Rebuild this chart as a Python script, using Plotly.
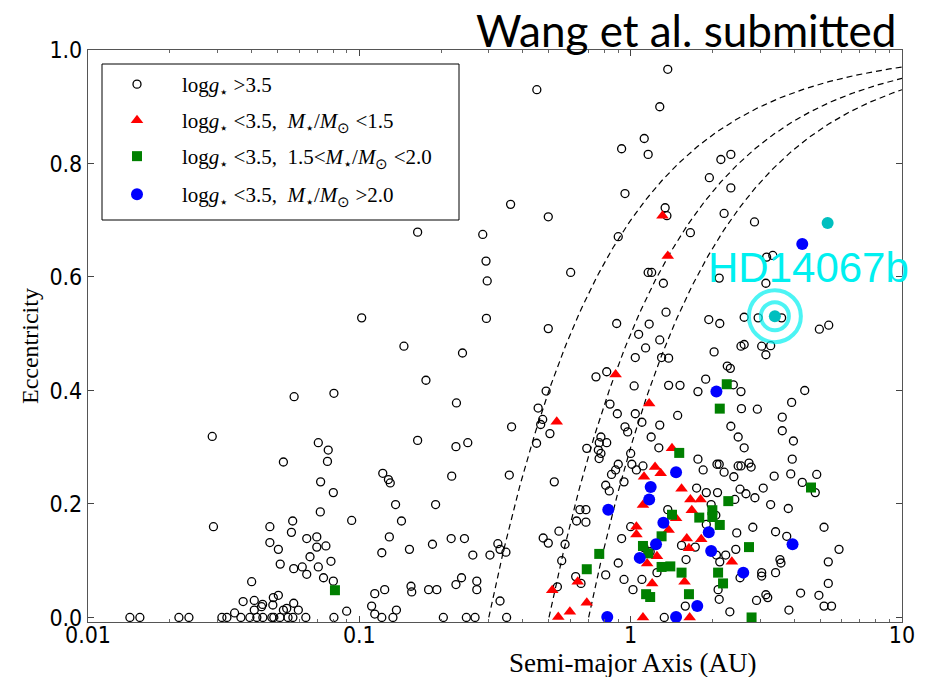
import plotly.graph_objects as go
import numpy as np

# ---------------- data ----------------
# log g > 3.5 (open circles): semi-major axis (AU), eccentricity
dwarf_a = [
    0.164, 0.451, 1.122, 0.926, 1.16, 0.953, 0.361, 0.497, 0.285, 0.90, 1.37, 1.28, 2.15, 2.34, 1.95, 2.34,
    1.34, 1.36, 2.21, 2.86, 1.66, 3.17, 3.34, 1.195, 1.32, 2.12, 3.15, 1.35, 1.17, 1.94, 2.13, 2.62, 2.95,
    3.60, 4.96, 5.37, 1.28, 1.135, 2.03, 2.55, 2.62, 3.04, 3.28, 3.15, 1.30, 1.38, 2.27, 2.33, 1.89, 2.39,
    2.55, 1.77, 1.38, 1.52, 4.38, 3.92, 2.56, 2.93, 3.62, 1.49, 1.10, 1.28, 2.34, 3.62, 3.98, 1.19, 2.49,
    1.27, 2.62, 3.94, 1.77, 1.85, 2.08, 2.12, 2.49, 2.55, 2.73, 2.78, 2.21, 2.40, 3.38, 3.89, 4.29, 4.85,
    4.79, 1.75, 1.90, 2.09, 2.53, 2.66, 2.87, 3.08, 2.42, 1.98, 3.28, 3.81, 1.37, 2.06, 1.90, 2.82, 5.16,
    2.46, 3.42, 3.76, 1.54, 5.86, 1.73, 2.44, 2.07, 2.24, 1.12, 1.18, 1.60, 2.13, 3.55, 3.58, 5.35, 2.53,
    3.04, 3.04, 3.42, 1.25, 1.10, 5.35, 2.10, 4.23, 4.94, 3.15, 3.20, 2.91, 2.12, 1.59, 5.16, 5.50, 3.83,
    2.32, 1.33, 1.11,
    0.293, 0.296, 0.294, 0.601, 0.146, 0.240, 0.176, 0.228, 0.497, 0.488, 0.456, 0.474, 0.466, 0.364,
    0.888, 1.16, 1.07, 1.04, 0.745, 0.816, 1.03, 0.839, 0.893, 1.04, 0.953, 0.102, 0.0575, 0.0806,
    0.504, 0.45, 0.164, 0.227, 0.251, 0.122, 0.128, 0.13, 0.219, 0.357, 0.523, 0.777, 0.816, 0.766,
    0.689, 0.76, 0.777, 0.765, 0.975, 1.0, 0.90, 0.88, 0.85, 1.01, 1.05, 0.945, 0.809, 0.834, 0.65,
    0.684, 0.632, 0.684, 0.136, 0.191, 0.143, 0.129, 0.121, 0.153, 0.186, 0.218, 0.244, 0.262, 0.324,
    0.330, 0.347, 0.303, 0.476, 0.497, 0.544, 0.573, 0.557, 1.0, 0.926, 0.90, 0.809, 0.627, 0.656,
    0.945, 1.02, 0.537, 0.330, 0.114, 0.124, 0.155, 0.156, 0.180, 0.193, 0.227, 0.238, 0.271, 0.271,
    0.111, 0.137, 0.114,
    0.0287, 0.029, 0.0706, 0.0768, 0.0763, 0.0525, 0.072, 0.0802, 0.0718, 0.0937, 0.0568, 0.0468,
    0.0562, 0.064, 0.0697, 0.0697, 0.0753, 0.0468, 0.0503, 0.0511, 0.0658, 0.0706, 0.0786, 0.0573,
    0.0616, 0.064, 0.0738, 0.0802, 0.0401, 0.0373, 0.041, 0.044, 0.0482, 0.0503, 0.0347, 0.041,
    0.0436, 0.048, 0.0525, 0.054, 0.0573, 0.0596, 0.0898,
    0.01427, 0.01553, 0.02163, 0.02355, 0.03115, 0.0325, 0.0366, 0.0395, 0.0419, 0.0441, 0.0476,
    0.0484, 0.051, 0.0546, 0.0569, 0.0635, 0.0806, 0.121, 0.133, 0.204, 0.248, 0.267, 0.349,
]
dwarf_e = [
    0.679, 0.930, 0.844, 0.826, 0.816, 0.747, 0.728, 0.706, 0.675, 0.671, 0.966, 0.900, 0.807, 0.816, 0.775, 0.757,
    0.722, 0.708, 0.712, 0.697, 0.678, 0.635, 0.638, 0.608, 0.589, 0.598, 0.589, 0.538, 0.517, 0.525, 0.518, 0.529, 0.528,
    0.528, 0.508, 0.515, 0.489, 0.475, 0.468, 0.478, 0.481, 0.478, 0.479, 0.463, 0.458, 0.457, 0.443, 0.439, 0.420, 0.410,
    0.398, 0.398, 0.409, 0.409, 0.400, 0.379, 0.368, 0.367, 0.353, 0.356, 0.344, 0.339, 0.337, 0.329, 0.311, 0.318, 0.318,
    0.299, 0.299, 0.279, 0.279, 0.260, 0.270, 0.270, 0.267, 0.267, 0.272, 0.265, 0.256, 0.248, 0.249, 0.253, 0.238, 0.252,
    0.220, 0.228, 0.220, 0.220, 0.226, 0.218, 0.211, 0.228, 0.208, 0.199, 0.199, 0.192, 0.190, 0.180, 0.164, 0.159, 0.159,
    0.149, 0.151, 0.143, 0.127, 0.120, 0.124, 0.120, 0.110, 0.110, 0.123, 0.116, 0.102, 0.098, 0.102, 0.096, 0.098, 0.070,
    0.079, 0.073, 0.079, 0.079, 0.067, 0.060, 0.049, 0.043, 0.039, 0.040, 0.035, 0.030, 0.032, 0.020, 0.020, 0.020, 0.013,
    0.010, 0.0, 0.267,
    0.628, 0.593, 0.527, 0.608, 0.478, 0.466, 0.418, 0.378, 0.509, 0.399, 0.369, 0.349, 0.340, 0.336,
    0.518, 0.608, 0.499, 0.458, 0.424, 0.433, 0.408, 0.376, 0.359, 0.359, 0.336, 0.528, 0.389, 0.395,
    0.324, 0.307, 0.312, 0.301, 0.308, 0.254, 0.243, 0.237, 0.249, 0.251, 0.239, 0.318, 0.308, 0.308,
    0.298, 0.295, 0.289, 0.280, 0.327, 0.289, 0.270, 0.260, 0.252, 0.270, 0.260, 0.239, 0.233, 0.223, 0.190,
    0.190, 0.170, 0.168, 0.199, 0.199, 0.170, 0.142, 0.114, 0.120, 0.129, 0.139, 0.139, 0.110, 0.130,
    0.120, 0.115, 0.110, 0.140, 0.131, 0.152, 0.129, 0.100, 0.160, 0.139, 0.096, 0.075, 0.072, 0.060,
    0.067, 0.049, 0.054, 0.029, 0.042, 0.049, 0.055, 0.045, 0.049, 0.049, 0.058, 0.070, 0.064, 0.049,
    0.020, 0.013, 0.006,
    0.319, 0.16, 0.308, 0.295, 0.275, 0.274, 0.239, 0.22, 0.186, 0.171, 0.17, 0.16,
    0.15, 0.139, 0.142, 0.124, 0.126, 0.132, 0.12, 0.094, 0.107, 0.089, 0.099, 0.086,
    0.089, 0.076, 0.07, 0.064, 0.063, 0.028, 0.03, 0.023, 0.035, 0.039, 0.008, 0.013,
    0.019, 0.022, 0.013, 0.016, 0.025, 0.013, 0.011,
    0.0, 0.0, 0.0, 0.0, 0.0, 0.0, 0.0, 0.0, 0.0, 0.0, 0.0,
    0.0, 0.0, 0.0, 0.0, 0.0, 0.0, 0.0, 0.0, 0.0, 0.0, 0.0, 0.0,
]

# log g < 3.5, M < 1.5 Msun (red triangles)
low_a = [1.31, 1.37, 1.17, 0.534, 0.88, 1.42, 1.23, 1.29, 1.12, 1.54, 1.66, 1.81, 1.68, 1.47, 1.38, 1.61,
         1.82, 1.64, 1.15, 1.25, 2.36, 1.20, 1.58, 1.65, 1.11, 1.05, 1.05, 0.638, 0.514, 0.689, 0.597,
         0.541, 1.11]
low_e = [0.708, 0.637, 0.377, 0.345, 0.428, 0.298, 0.265, 0.254, 0.248, 0.227, 0.208, 0.208, 0.189, 0.175,
         0.154, 0.139, 0.138, 0.122, 0.095, 0.108, 0.098, 0.060, 0.063, 0.0, 0.0, 0.160, 0.146, 0.063, 0.048,
         0.026, 0.010, 0.001, 0.198]

# log g < 3.5, 1.5 < M < 2.0 Msun (green squares)
mid_a = [2.26, 2.13, 1.51, 4.62, 2.29, 2.0, 2.0, 1.42, 1.79, 2.13, 1.30, 2.73, 1.30, 1.40, 1.54, 2.10,
         2.19, 1.64, 1.14, 1.18, 2.79, 0.766, 0.689, 0.0813, 1.11, 1.16]
mid_e = [0.411, 0.368, 0.290, 0.229, 0.205, 0.189, 0.177, 0.181, 0.176, 0.163, 0.143, 0.124, 0.089, 0.090,
         0.079, 0.079, 0.060, 0.041, 0.041, 0.036, 0.0, 0.112, 0.085, 0.048, 0.126, 0.113]

# log g < 3.5, M > 2.0 Msun (blue circles)
high_a = [4.29, 2.07, 1.47, 1.185, 1.17, 1.32, 1.94, 3.95, 1.24, 1.98, 2.60, 1.76, 1.47, 0.827, 1.08, 0.82]
high_e = [0.658, 0.398, 0.256, 0.230, 0.208, 0.167, 0.150, 0.129, 0.129, 0.117, 0.079, 0.020, 0.001, 0.190,
          0.105, 0.001]

# HD 14067 system (cyan)
hd_a = [5.32, 3.40]
hd_e = [0.695, 0.531]

# constant periastron distance curves e = 1 - q/a
peri_q = [0.3, 0.5, 0.7]

legend_names = [
    "log<i>g</i><sub>⋆</sub> &gt;3.5",
    "log<i>g</i><sub>⋆</sub> &lt;3.5,  <i>M</i><sub>⋆</sub>/<i>M</i><sub>⊙</sub> &lt;1.5",
    "log<i>g</i><sub>⋆</sub> &lt;3.5,  1.5&lt;<i>M</i><sub>⋆</sub>/<i>M</i><sub>⊙</sub> &lt;2.0",
    "log<i>g</i><sub>⋆</sub> &lt;3.5,  <i>M</i><sub>⋆</sub>/<i>M</i><sub>⊙</sub> &gt;2.0",
]

# ---------------- figure ----------------
W, H = 933, 677
ML, MR, MT, MB = 88, 31, 50, 55
PW, PH = W - ML - MR, H - MT - MB


def px(xp):
    return (xp - ML) / PW


def py(yp):
    return (H - MB - yp) / PH


fig = go.Figure()

for q in peri_q:
    aa = np.geomspace(q, 10, 300)
    fig.add_trace(go.Scatter(x=aa, y=1 - q / aa, mode="lines",
                             line=dict(color="black", width=1.2, dash="6px,4px"),
                             showlegend=False, hoverinfo="skip"))

fig.add_trace(go.Scatter(x=dwarf_a, y=dwarf_e, mode="markers", name=legend_names[0], legend="legend",
                         marker=dict(symbol="circle-open", size=8, color="black", line=dict(width=1.3))))
fig.add_trace(go.Scatter(x=low_a, y=low_e, mode="markers", name=legend_names[1], legend="legend2",
                         marker=dict(symbol="triangle-up", size=11, color="#ff0000", line=dict(width=0))))
fig.add_trace(go.Scatter(x=mid_a, y=mid_e, mode="markers", name=legend_names[2], legend="legend3",
                         marker=dict(symbol="square", size=10, color="#008000", line=dict(width=0))))
fig.add_trace(go.Scatter(x=high_a, y=high_e, mode="markers", name=legend_names[3], legend="legend4",
                         marker=dict(symbol="circle", size=12, color="#0000ff", line=dict(width=0))))
fig.add_trace(go.Scatter(x=hd_a, y=hd_e, mode="markers", showlegend=False,
                         marker=dict(symbol="circle", size=12, color="#00bfbf", line=dict(width=0))))
# target rings around HD14067b
fig.add_trace(go.Scatter(x=[hd_a[1], hd_a[1]], y=[hd_e[1], hd_e[1]], mode="markers", showlegend=False,
                         marker=dict(symbol="circle-open", size=[28, 52], color="#00f0f0",
                                     line=dict(width=4))))

tickfont = dict(family="Liberation Sans Narrow, DejaVu Sans Condensed, Liberation Sans", size=23, color="black")

minor_x = [m * 10.0 ** k for k in (-2, -1, 0) for m in range(2, 10)]

fig.update_xaxes(type="log", range=[-2, 1], tickvals=[0.01, 0.1, 1, 10], ticktext=["0.01", "0.1", "1", "10"],
                 ticks="inside", ticklen=6, tickwidth=1, tickcolor="#444", showline=True, linecolor="#555",
                 linewidth=1.2, mirror="allticks", showgrid=False, zeroline=False, tickfont=tickfont,
                 ticklabelstandoff=-8,
                 minor=dict(ticks="inside", ticklen=3, tickcolor="#666", tickvals=minor_x, showgrid=False))
fig.update_yaxes(range=[-0.008, 1.0], tickvals=[0, 0.2, 0.4, 0.6, 0.8, 1.0],
                 ticktext=["0.0", "0.2", "0.4", "0.6", "0.8", "1.0"],
                 ticks="inside", ticklen=6, tickwidth=1, tickcolor="#444", showline=True, linecolor="#555",
                 linewidth=1.2, mirror="allticks", showgrid=False, zeroline=False, tickfont=tickfont)

fig.add_shape(type="rect", xref="paper", yref="paper", x0=px(102), x1=px(459), y0=py(220), y1=py(64),
              line=dict(color="black", width=1), fillcolor="white", layer="below")

fig.add_annotation(text="Semi-major Axis (AU)", xref="paper", yref="paper", x=px(632), y=py(663),
                   xanchor="center", yanchor="middle", showarrow=False,
                   font=dict(family="Liberation Serif", size=27, color="black"))
fig.add_annotation(text="Eccentricity", xref="paper", yref="paper", x=px(30), y=py(346),
                   xanchor="center", yanchor="middle", showarrow=False, textangle=-90,
                   font=dict(family="Liberation Serif", size=24, color="black"))
fig.add_annotation(text="Wang et al. submitted", xref="paper", yref="paper", x=px(898), y=py(30),
                   xanchor="right", yanchor="middle", showarrow=False,
                   font=dict(family="Lato, Liberation Sans", size=44, color="black"))
fig.add_annotation(text="HD14067b", xref="paper", yref="paper", x=px(706), y=py(267),
                   xanchor="left", yanchor="middle", showarrow=False,
                   font=dict(family="Liberation Sans", size=42, color="#00f0f0"))

legend_tops = [64, 100, 136, 174]
leg_common = dict(xanchor="left", yanchor="top", bgcolor="rgba(0,0,0,0)", borderwidth=0, itemwidth=80,
                  font=dict(family="Liberation Serif", size=21, color="black"))
legends = {}
for i, top in enumerate(legend_tops):
    key = "legend" if i == 0 else f"legend{i + 1}"
    legends[key] = dict(x=px(92), y=py(top), **leg_common)

fig.update_layout(
    width=W, height=H, margin=dict(l=ML, r=MR, t=MT, b=MB),
    paper_bgcolor="white", plot_bgcolor="white",
    **legends,
)

fig.write_html("out.html")
